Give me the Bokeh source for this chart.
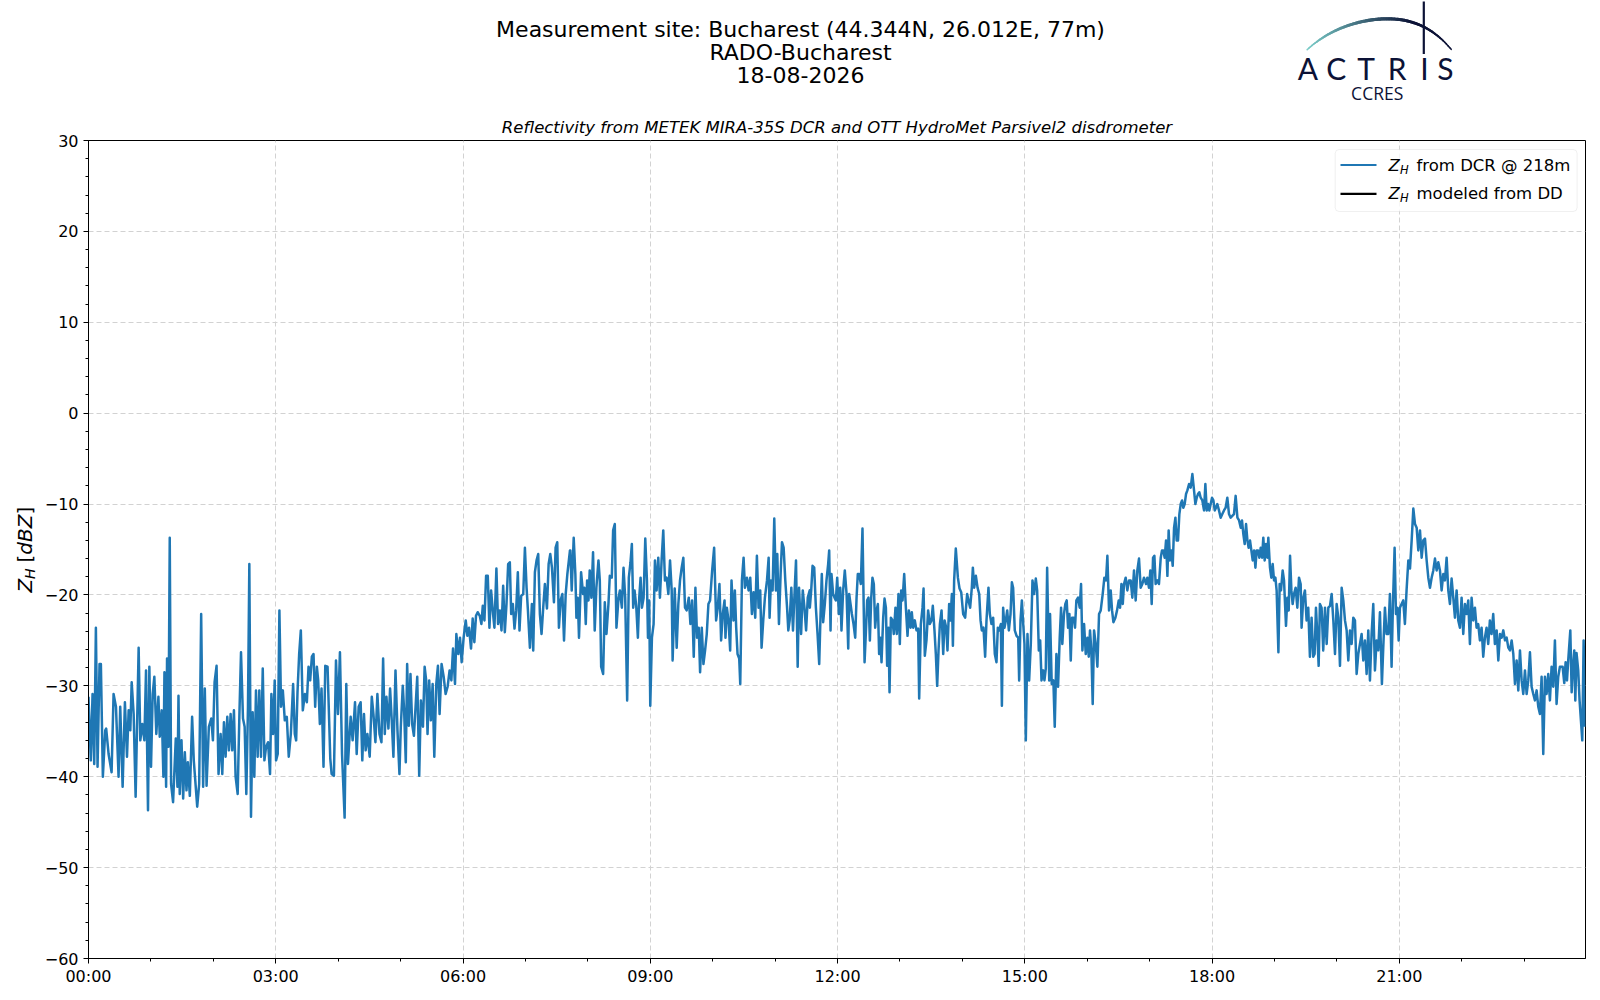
import numpy as np
import pandas as pd
from bokeh.plotting import figure
from bokeh.models import (Range1d, FixedTicker, DatetimeTickFormatter, Label,
                          BoxAnnotation, ColumnDataSource)
from bokeh.layouts import column, row
from bokeh.embed import file_html
from bokeh.resources import INLINE
from bokeh.core.properties import value

# ---------------------------------------------------------------- texts
DAY = "2026-08-18"
title_lines = ["Measurement site: Bucharest (44.344N, 26.012E, 77m)",
               "RADO-Bucharest", "18-08-2026"]
subtitle = "Reflectivity from METEK MIRA-35S DCR and OTT HydroMet Parsivel2 disdrometer"
legend_texts = ["from DCR @ 218m", "modeled from DD"]
legend_colors = ["#1f77b4", "#000000"]
x_tick_hours = [0, 3, 6, 9, 12, 15, 18, 21]
y_ticks = [-60, -50, -40, -30, -20, -10, 0, 10, 20, 30]
y_tick_labels = ["\u221260", "\u221250", "\u221240", "\u221230", "\u221220",
                 "\u221210", "0", "10", "20", "30"]

# ---------------------------------------------------------------- data (minutes after midnight, dBZ)
t_00_04 = [0, 2.2, 3.9, 5.5, 7.1, 8.7, 10.6, 11.9, 13.8, 16.1,
           17.0, 19.3, 22.2, 24.1, 26.4, 28.9, 30.5, 32.8, 35.0, 37.0,
           38.6, 40.2, 41.5, 43.4, 45.3, 48.2, 49.8, 51.7, 53.7, 55.3,
           57.2, 58.5, 60.1, 61.7, 63.3, 65.2, 67.2, 68.5, 70.4, 72.0,
           73.0, 74.6, 75.5, 76.8, 78.1, 79.4, 81.3, 83.9, 85.5, 86.5,
           87.7, 89.4, 91.0, 92.6, 94.2, 95.5, 97.4, 99.6, 101.2, 104.5,
           106.4, 108.3, 110.2, 111.8, 113.5, 115.7, 118.0, 119.6, 121.2, 123.1,
           125.0, 127.0, 128.6, 130.2, 131.8, 133.4, 135.0, 136.6, 138.2, 139.8,
           141.4, 143.4, 145.0, 146.6, 148.5, 150.1, 151.7, 153.3, 154.6, 156.2,
           157.8, 159.4, 161.0, 162.6, 164.2, 165.8, 167.5, 169.1, 170.7, 172.6,
           174.5, 175.8, 177.4, 179.0, 180.3, 181.9, 183.5, 185.1, 186.8, 188.7,
           190.6, 192.5, 194.5, 196.7, 198.3, 199.6, 200.9, 202.5, 204.1, 206.0,
           208.0, 209.9, 211.5, 213.1, 214.7, 216.3, 217.9, 219.5, 220.8, 222.4,
           224.0, 225.9, 227.6, 229.8, 232.4]
z_00_04 = [-31.2, -38.2, -30.9, -38.6, -23.6, -38.9, -27.6, -27.6, -40.0, -34.9,
           -34.7, -37.5, -39.5, -30.9, -32.3, -40.0, -32.3, -41.1, -31.8, -37.8,
           -32.7, -34.9, -29.6, -33.1, -42.2, -25.8, -36.0, -34.2, -36.0, -28.3,
           -43.7, -27.9, -38.9, -30.9, -29.0, -35.3, -31.2, -35.6, -32.7, -40.0,
           -28.5, -41.1, -27.0, -36.7, -13.7, -40.8, -42.8, -35.8, -41.1, -31.1,
           -41.9, -36.0, -42.4, -37.3, -41.5, -38.4, -42.1, -33.4, -38.2, -43.3,
           -40.8, -22.1, -41.1, -30.3, -41.0, -34.5, -33.6, -36.0, -29.6, -27.8,
           -39.7, -35.3, -39.7, -34.0, -37.8, -33.4, -37.1, -33.1, -37.1, -32.7,
           -40.0, -41.9, -33.4, -26.3, -33.6, -34.5, -41.9, -32.3, -16.6, -44.4,
           -32.9, -40.0, -30.5, -37.8, -30.5, -37.8, -28.1, -38.2, -36.7, -36.2,
           -39.7, -30.9, -35.3, -29.4, -38.2, -37.5, -21.7, -32.3, -30.5, -33.8,
           -33.4, -37.8, -35.3, -29.8, -35.3, -36.0, -30.7, -26.5, -23.9, -32.7,
           -30.9, -31.8, -27.9, -29.4, -26.8, -26.5, -32.3, -27.9, -29.4, -34.2,
           -30.3, -38.9, -27.8, -27.9, -38.0]

t_04_08 = [233.7, 235.9, 237.9, 239.8, 241.7, 243.7, 246.2, 247.8, 249.4, 252.0,
           253.9, 256.2, 257.8, 259.7, 261.6, 263.2, 264.8, 266.4, 268.1, 270.3,
           272.3, 273.9, 275.8, 277.7, 279.7, 281.6, 283.2, 284.8, 286.4, 288.3,
           289.9, 291.5, 293.1, 295.1, 297.0, 298.9, 300.2, 302.1, 303.4, 305.0,
           306.3, 307.9, 309.5, 311.1, 312.8, 314.4, 316.0, 317.9, 319.5, 321.5,
           323.1, 324.6, 325.9, 327.5, 329.1, 330.8, 332.4, 334.3, 335.9, 337.5,
           339.4, 341.4, 343.3, 345.2, 347.1, 348.8, 350.4, 352.3, 353.6, 355.5,
           357.1, 358.7, 360.6, 362.6, 364.2, 365.8, 367.7, 369.3, 370.9, 372.5,
           374.1, 376.1, 377.7, 379.0, 380.6, 382.2, 383.8, 385.4, 387.0, 388.9,
           390.2, 392.1, 393.7, 395.4, 397.0, 398.6, 400.2, 401.8, 403.4, 405.0,
           406.3, 407.9, 409.5, 411.1, 412.7, 414.3, 415.9, 417.9, 419.5, 421.1,
           422.4, 424.3, 426.2, 427.5, 429.1, 430.7, 432.3, 433.9, 435.5, 437.1,
           438.7, 440.7, 442.3, 443.9, 445.5, 447.4, 449.0, 450.6, 452.2, 453.8,
           455.5, 457.1, 458.7, 460.3, 462.8]
z_04_08 = [-39.7, -39.9, -27.2, -33.1, -26.3, -37.5, -44.5, -29.8, -38.6, -33.4,
           -36.0, -31.8, -37.5, -32.3, -31.8, -38.2, -33.1, -37.1, -35.3, -37.8,
           -31.2, -33.1, -36.2, -30.9, -35.3, -36.2, -27.0, -35.3, -31.2, -34.7,
           -30.3, -33.8, -37.8, -28.3, -34.9, -39.7, -34.5, -30.0, -32.7, -38.4,
           -27.6, -34.4, -28.7, -34.2, -35.5, -32.3, -29.0, -39.9, -31.6, -34.5,
           -27.9, -29.4, -35.3, -29.4, -33.8, -29.8, -37.8, -29.8, -27.8, -33.1,
           -27.6, -29.0, -30.9, -30.1, -28.3, -29.4, -25.9, -29.8, -24.3, -26.5,
           -24.7, -27.4, -24.7, -22.8, -24.5, -23.6, -25.9, -22.6, -25.2, -22.3,
           -21.9, -22.3, -23.2, -21.2, -22.8, -17.9, -17.9, -23.6, -19.5, -22.1,
           -23.6, -17.1, -23.2, -21.7, -23.9, -19.0, -24.1, -21.0, -16.6, -16.4,
           -22.1, -21.0, -23.7, -21.7, -17.5, -23.9, -20.1, -19.9, -14.8, -19.2,
           -21.7, -25.8, -21.0, -26.1, -17.5, -16.2, -15.5, -22.1, -24.3, -21.4,
           -18.8, -21.5, -16.6, -15.5, -17.0, -20.8, -14.8, -14.2, -23.6, -20.6,
           -19.9, -25.0, -19.9, -17.7, -15.1]

t_08_12 = [463.2, 464.5, 466.4, 468.0, 469.0, 470.3, 471.5, 473.5, 475.4, 476.7,
           478.0, 479.3, 480.6, 481.8, 483.4, 485.0, 486.6, 488.2, 490.2, 491.5,
           492.8, 494.7, 496.3, 497.9, 499.8, 501.1, 503.0, 504.3, 505.9, 507.5,
           509.5, 510.8, 512.7, 514.3, 515.9, 517.8, 519.4, 521.0, 522.3, 523.6,
           524.9, 526.5, 528.1, 529.4, 530.7, 532.0, 533.6, 535.2, 536.8, 537.8,
           539.0, 540.0, 541.6, 543.2, 544.5, 546.1, 547.7, 549.3, 550.9, 552.5,
           554.1, 555.7, 557.4, 559.0, 560.6, 561.5, 563.5, 565.4, 567.0, 568.6,
           570.2, 571.8, 573.4, 575.0, 577.0, 578.6, 580.2, 581.8, 583.4, 585.0,
           586.6, 587.9, 589.5, 591.1, 592.7, 594.3, 595.9, 597.5, 599.5, 601.4,
           603.3, 604.9, 606.5, 608.1, 609.7, 611.4, 612.3, 613.6, 615.2, 616.8,
           618.1, 620.0, 621.3, 622.6, 623.9, 625.5, 626.5, 628.1, 629.7, 631.0,
           632.9, 634.5, 636.1, 637.7, 639.3, 640.9, 642.5, 644.1, 645.7, 647.0,
           648.6, 650.2, 652.2, 653.8, 654.7, 656.0, 657.6, 659.2, 660.8, 662.1,
           663.7, 665.3, 666.6, 668.2, 669.8, 671.5, 672.7, 674.0, 675.6, 677.2,
           678.8, 680.1, 681.7, 683.0, 685.0, 686.6, 688.2, 689.8, 691.4, 693.3]
z_08_12 = [-15.1, -19.5, -13.7, -17.7, -22.5, -20.3, -24.7, -17.5, -19.9, -19.2,
           -23.2, -18.4, -20.6, -17.3, -20.3, -15.3, -23.9, -19.2, -16.2, -18.4,
           -27.9, -28.7, -20.8, -24.3, -21.0, -17.9, -18.1, -12.9, -12.2, -23.6,
           -20.3, -19.5, -21.4, -17.0, -20.3, -31.6, -18.1, -16.4, -14.4, -21.4,
           -19.5, -21.2, -24.7, -20.3, -18.1, -21.4, -20.3, -13.8, -18.4, -24.7,
           -20.6, -32.2, -24.7, -23.2, -16.2, -19.5, -15.9, -20.3, -16.2, -12.9,
           -18.4, -18.1, -19.9, -16.2, -19.5, -27.2, -19.3, -25.8, -21.0, -18.4,
           -17.0, -15.9, -21.4, -21.7, -20.3, -23.2, -20.6, -26.8, -19.2, -24.7,
           -23.6, -28.5, -23.6, -27.6, -26.1, -24.3, -21.0, -20.6, -17.3, -14.8,
           -22.8, -21.4, -18.8, -25.0, -22.1, -20.6, -24.7, -21.4, -22.8, -26.1,
           -18.4, -22.8, -19.5, -23.6, -26.5, -27.0, -29.8, -18.4, -15.9, -19.2,
           -18.1, -19.5, -18.1, -22.1, -19.7, -22.5, -15.7, -21.4, -19.5, -25.8,
           -22.8, -20.3, -18.4, -15.9, -22.5, -18.4, -19.5, -11.6, -19.5, -15.5,
           -23.2, -17.7, -14.2, -14.8, -18.4, -21.4, -23.9, -22.8, -19.2, -23.9,
           -19.5, -16.2, -27.9, -19.2, -24.3, -19.5, -21.4, -23.9, -20.3, -19.5]

t_12_15 = [693.4, 694.7, 696.0, 697.6, 699.2, 700.8, 702.4, 703.7, 704.9, 706.2,
           707.8, 709.4, 711.0, 712.0, 713.3, 714.2, 715.8, 717.1, 718.4, 719.7,
           721.3, 722.6, 723.8, 725.4, 727.0, 728.7, 730.3, 731.2, 732.5, 733.8,
           735.4, 737.0, 738.3, 739.5, 740.8, 742.4, 744.0, 746.0, 747.2, 748.5,
           749.8, 751.1, 752.4, 753.6, 754.9, 756.2, 757.5, 758.8, 760.0, 761.3,
           762.3, 763.9, 765.2, 766.5, 767.7, 769.0, 770.0, 771.3, 772.9, 774.1,
           775.7, 777.0, 778.6, 779.9, 781.2, 782.5, 784.1, 785.7, 787.3, 788.6,
           790.2, 791.4, 792.7, 794.3, 795.9, 797.5, 798.5, 800.1, 801.7, 802.7,
           803.9, 805.5, 807.1, 808.7, 810.3, 811.6, 813.2, 814.5, 815.8, 817.1,
           818.4, 820.0, 821.6, 822.9, 824.5, 825.7, 827.3, 828.6, 829.9, 830.9,
           832.1, 833.7, 835.7, 837.3, 838.9, 840.8, 842.7, 844.6, 845.9, 847.5,
           849.1, 850.1, 851.4, 853.0, 854.6, 856.2, 857.5, 858.7, 860.3, 861.9,
           863.2, 865.1, 866.4, 868.0, 869.6, 871.2, 872.8, 874.1, 875.4, 877.0,
           878.0, 879.2, 880.5, 881.8, 883.1, 884.7, 886.3, 887.6, 888.8, 890.4,
           892.1, 893.7, 894.6, 895.9, 897.2, 898.5, 899.7, 901.0, 902.6, 904.2,
           905.8, 907.4, 909.0, 910.6, 911.9, 913.5, 914.8, 916.1, 917.7, 918.9,
           920.2, 921.5, 923.5]
z_12_15 = [-21.4, -19.5, -16.8, -17.0, -21.4, -24.3, -27.6, -22.1, -17.7, -23.0,
           -21.0, -18.4, -16.6, -15.1, -23.9, -17.7, -19.9, -20.3, -20.6, -18.1,
           -22.1, -19.2, -23.9, -19.5, -17.3, -19.9, -25.9, -19.9, -21.0, -22.1,
           -23.2, -24.7, -20.3, -17.7, -17.7, -18.8, -12.7, -27.4, -24.3, -20.6,
           -20.3, -25.0, -20.3, -18.1, -18.8, -23.6, -21.7, -21.0, -26.5, -24.7,
           -27.4, -22.5, -20.4, -21.4, -27.8, -23.6, -30.7, -22.5, -22.8, -24.3,
           -21.4, -24.3, -19.9, -25.4, -19.5, -20.6, -17.7, -21.4, -24.5, -21.7,
           -23.6, -21.9, -23.6, -22.8, -23.9, -23.7, -31.4, -23.2, -21.4, -19.3,
           -26.7, -25.0, -21.7, -23.2, -22.8, -21.2, -23.9, -26.5, -30.0, -26.1,
           -23.2, -21.7, -26.5, -22.8, -23.6, -26.1, -21.0, -22.8, -19.9, -25.6,
           -18.4, -14.9, -18.1, -19.3, -19.7, -22.1, -22.5, -19.9, -20.6, -21.4,
           -19.2, -17.0, -19.2, -17.9, -19.2, -19.9, -22.8, -23.9, -23.6, -26.8,
           -22.8, -19.2, -22.1, -23.2, -22.5, -26.5, -27.4, -23.6, -23.9, -23.2,
           -32.2, -21.4, -23.6, -22.8, -21.7, -23.9, -22.1, -18.6, -19.2, -23.9,
           -24.5, -24.7, -29.4, -22.8, -20.6, -23.2, -25.4, -36.0, -24.3, -29.4,
           -25.4, -18.4, -19.9, -18.2, -19.5, -26.1, -25.0, -29.4, -28.3, -29.4,
           -28.1, -17.0, -29.4]

t_15_19 = [924.3, 925.9, 927.5, 928.8, 930.4, 932.0, 933.6, 934.9, 936.1, 937.7,
           939.0, 940.3, 941.6, 942.9, 944.2, 945.4, 947.0, 948.3, 949.6, 951.2,
           952.8, 954.1, 955.4, 957.0, 958.6, 960.2, 961.5, 962.7, 964.0, 965.3,
           966.6, 968.2, 969.8, 971.4, 973.0, 974.9, 976.5, 978.1, 979.4, 981.0,
           982.6, 983.9, 985.2, 987.1, 988.7, 990.3, 991.6, 992.9, 994.2, 995.4,
           997.0, 998.6, 1000.2, 1001.8, 1003.4, 1005.0, 1006.6, 1008.2, 1009.8, 1011.4,
           1013.0, 1014.6, 1016.6, 1017.8, 1019.4, 1020.7, 1022.0, 1023.3, 1024.6, 1025.8,
           1027.4, 1029.0, 1030.7, 1031.9, 1033.2, 1034.5, 1035.8, 1037.1, 1038.3, 1039.6,
           1040.9, 1042.2, 1043.5, 1044.8, 1046.0, 1047.3, 1048.6, 1049.9, 1051.2, 1052.4,
           1053.7, 1055.0, 1056.3, 1057.9, 1059.5, 1061.1, 1062.7, 1064.0, 1065.3, 1066.5,
           1067.8, 1069.1, 1070.7, 1072.3, 1073.6, 1074.9, 1076.2, 1077.4, 1078.7, 1080.0,
           1081.3, 1082.6, 1083.8, 1085.1, 1086.7, 1088.3, 1089.9, 1091.5, 1093.1, 1094.7,
           1096.3, 1097.9, 1099.5, 1101.1, 1102.7, 1104.4, 1106.0, 1107.6, 1108.8, 1110.1,
           1111.4, 1112.7, 1114.0, 1115.2, 1116.5, 1117.8, 1119.1, 1120.4, 1121.7, 1122.9,
           1124.2, 1125.5, 1126.8, 1128.1, 1129.3, 1130.6, 1131.9, 1133.2, 1134.1, 1135.7,
           1137.0, 1138.3, 1139.6, 1140.9, 1142.1, 1143.8, 1145.0, 1146.3, 1147.9, 1149.2,
           1151.1, 1152.4, 1153.7, 1155.0, 1156.3, 1157.5, 1158.8, 1160.4, 1162.0, 1163.6,
           1165.2]
z_15_19 = [-22.1, -29.8, -29.4, -34.5, -26.5, -30.1, -24.7, -21.4, -25.4, -22.1,
           -21.0, -20.6, -23.6, -22.1, -27.2, -22.5, -22.5, -23.6, -20.6, -20.3,
           -21.4, -18.8, -26.1, -23.2, -26.5, -24.7, -26.8, -23.9, -26.1, -32.0,
           -23.9, -25.4, -27.9, -22.1, -21.7, -19.9, -18.1, -18.4, -15.7, -21.7,
           -19.5, -21.7, -23.0, -22.5, -21.7, -20.6, -21.4, -18.8, -21.0, -18.8,
           -18.1, -19.5, -18.4, -18.4, -20.3, -17.3, -20.6, -17.3, -16.0, -19.2,
           -18.8, -18.1, -18.8, -18.1, -19.2, -17.3, -21.0, -15.9, -15.7, -18.8,
           -18.4, -18.8, -15.9, -15.1, -15.1, -15.9, -14.0, -17.9, -12.9, -16.2,
           -15.1, -16.8, -12.6, -11.5, -14.0, -14.0, -11.1, -10.0, -9.6, -10.4,
           -10.0, -8.9, -8.5, -7.8, -8.2, -6.7, -8.5, -10.0, -9.3, -8.9,
           -8.7, -9.3, -9.6, -10.7, -7.8, -10.7, -10.0, -10.7, -10.0, -9.3,
           -9.6, -10.7, -10.4, -10.0, -10.7, -11.5, -11.1, -10.7, -10.4, -9.3,
           -11.1, -11.5, -11.3, -11.1, -9.1, -11.5, -11.8, -12.6, -11.8, -13.3,
           -14.4, -12.2, -14.0, -14.8, -14.0, -15.1, -16.2, -15.1, -17.0, -15.1,
           -15.1, -15.9, -14.8, -15.9, -13.7, -16.2, -14.4, -15.9, -13.7, -17.0,
           -18.1, -16.6, -18.4, -18.1, -19.5, -26.3, -18.8, -19.5, -17.3, -18.4,
           -23.4, -20.3, -21.7, -15.7, -19.5, -21.0, -19.9, -19.2, -21.4, -18.1,
           -18.8]

t_19_24 = [1166.1, 1167.7, 1169.3, 1170.9, 1172.5, 1174.1, 1175.7, 1177.3, 1178.6, 1179.9,
           1181.2, 1182.5, 1183.7, 1185.3, 1186.9, 1188.6, 1190.2, 1191.8, 1193.4, 1195.0,
           1196.6, 1198.2, 1199.8, 1201.4, 1203.0, 1204.6, 1206.2, 1207.8, 1209.4, 1211.0,
           1212.6, 1214.2, 1215.8, 1217.4, 1219.0, 1220.6, 1222.2, 1223.8, 1225.4, 1227.0,
           1228.6, 1230.2, 1231.8, 1233.4, 1235.0, 1236.6, 1238.2, 1239.8, 1241.4, 1243.3,
           1244.6, 1246.2, 1247.8, 1249.4, 1251.0, 1252.6, 1253.9, 1255.5, 1256.8, 1258.1,
           1259.4, 1260.6, 1262.2, 1263.8, 1265.4, 1267.0, 1268.7, 1270.3, 1271.9, 1273.5,
           1275.1, 1276.7, 1278.3, 1279.9, 1281.5, 1283.1, 1284.7, 1286.3, 1287.9, 1289.5,
           1291.1, 1292.7, 1294.3, 1295.9, 1297.5, 1299.1, 1300.7, 1302.3, 1303.9, 1305.5,
           1307.1, 1308.7, 1310.3, 1311.9, 1313.5, 1315.1, 1316.7, 1318.3, 1319.9, 1321.5,
           1323.1, 1324.7, 1326.3, 1327.9, 1329.5, 1331.1, 1332.7, 1334.3, 1335.9, 1337.5,
           1339.1, 1340.7, 1342.3, 1343.9, 1345.5, 1347.1, 1348.7, 1350.3, 1351.9, 1353.6,
           1355.2, 1356.8, 1358.4, 1360.0, 1361.6, 1363.2, 1364.8, 1366.4, 1368.0, 1369.6,
           1371.2, 1372.8, 1374.4, 1376.0, 1377.6, 1379.2, 1380.8, 1382.4, 1384.0, 1385.6,
           1387.2, 1388.8, 1390.4, 1392.0, 1393.6, 1395.2, 1396.8, 1398.4, 1400.0, 1401.6,
           1403.2, 1404.8, 1406.4, 1408.0, 1409.6, 1411.2, 1412.8, 1414.4,
           1417.0, 1418.6, 1419.9, 1421.2, 1422.4, 1424.4, 1425.7, 1426.9, 1428.2, 1429.2,
           1430.4, 1432.0, 1433.3, 1434.6, 1435.9, 1437.2, 1438.5]
z_19_24 = [-23.6, -20.3, -19.5, -22.8, -21.4, -26.8, -22.5, -26.8, -26.5, -21.4,
           -24.3, -27.8, -21.0, -21.4, -26.1, -21.4, -25.4, -21.4, -21.2, -19.9,
           -22.8, -26.5, -21.0, -22.5, -27.8, -19.2, -20.6, -22.8, -23.9, -27.2,
           -23.9, -25.4, -22.5, -22.8, -28.7, -26.5, -25.4, -24.3, -27.2, -25.0,
           -28.7, -23.9, -29.4, -24.3, -21.0, -28.3, -25.0, -26.1, -21.9, -29.8,
           -25.8, -21.4, -24.3, -24.3, -19.9, -27.9, -21.0, -14.8, -22.1, -21.4,
           -25.0, -21.4, -21.0, -20.6, -23.2, -19.5, -16.2, -17.1, -14.0, -10.5,
           -12.2, -12.6, -15.1, -12.9, -15.9, -14.0, -13.8, -16.2, -18.1, -19.2,
           -18.1, -17.3, -16.0, -17.3, -16.4, -17.3, -19.5, -17.7, -18.4, -15.9,
           -19.5, -21.0, -18.2, -20.3, -22.5, -19.5, -22.8, -23.6, -20.3, -24.3,
           -21.0, -22.1, -20.6, -25.4, -20.3, -22.8, -21.4, -23.6, -23.2, -25.0,
           -23.6, -26.8, -24.7, -23.6, -25.4, -22.8, -24.3, -22.1, -25.4, -23.9,
           -27.2, -24.3, -24.7, -23.9, -25.0, -24.7, -25.8, -26.1, -25.0, -26.5,
           -29.8, -27.2, -30.5, -26.1, -29.4, -30.9, -28.3, -30.9, -29.4, -26.3,
           -30.1, -30.9, -31.6, -30.5, -32.3, -33.1, -29.0, -37.5, -29.0, -30.9,
           -28.7, -31.6, -27.9, -30.1, -25.0, -32.0, -29.0, -27.9,
           -27.9, -29.7, -27.4, -29.4, -27.2, -23.9, -30.7, -27.9, -26.1, -31.6,
           -26.4, -28.3, -31.6, -33.8, -36.0, -25.0, -34.5]

# ---------------------------------------------------------------- build series
minutes = t_00_04 + t_04_08 + t_08_12 + t_12_15 + t_15_19 + t_19_24
zh_dcr = z_00_04 + z_04_08 + z_08_12 + z_12_15 + z_15_19 + z_19_24
n = min(len(minutes), len(zh_dcr))
base = pd.Timestamp(DAY)
times = (base + pd.to_timedelta(np.array(minutes[:n]), unit="m")).values
src = ColumnDataSource(dict(t=times, z=np.array(zh_dcr[:n])))

FONT = "DejaVu Sans"
NAVY = "#0c1236"

# page geometry (pixels)
W = 1592
LEFT, RIGHT = 88, 1585          # plot frame x extent
HEAD_H = 112                    # header height (titles, logo)
YLAB_W = 40                     # strip for the y-axis label
MAIN_H = 880
TOP_B, BOT_B = 28, 34           # main figure borders (top border holds the axes title)


def bare(width, height, xr, yr, **kw):
    f = figure(width=width, height=height, x_range=xr, y_range=yr,
               output_backend="svg", toolbar_location=None, title=None,
               x_axis_location=None, y_axis_location=None, **kw)
    f.xgrid.visible = False
    f.ygrid.visible = False
    f.outline_line_color = None
    f.background_fill_color = "white"
    f.border_fill_color = "white"
    return f


# ---------------------------------------------------------------- header
h = bare(W, HEAD_H, Range1d(LEFT, RIGHT), Range1d(HEAD_H, 0),
         min_border_left=LEFT, min_border_right=W - RIGHT,
         min_border_top=0, min_border_bottom=0)
h.text(x=[800, 800, 800], y=[28.6, 52.0, 74.6], text=title_lines,
       text_font=value(FONT), text_font_size="22px", text_color="black",
       text_align="center", text_baseline="middle")

# logo arc (gradient)
arc_px = np.array([1306.7, 1316.7, 1326.7, 1340, 1353.3, 1366.7, 1380, 1393.3,
                   1406.7, 1420, 1433.3, 1443.3, 1450.7])
arc_py = np.array([49.3, 40.7, 34.3, 28.3, 23.3, 20.0, 18.3, 18.3,
                   20.7, 25.0, 32.7, 40.0, 49.3])
u = (arc_px - arc_px.mean()) / 72.0
coef = np.polyfit(u, arc_py, 4)
ud = np.linspace(u[0], u[-1], 90)
xd = ud * 72.0 + arc_px.mean()
yd = np.polyval(coef, ud)
c0 = np.array([0x7a, 0xcc, 0xc8])
c1 = np.array([0x0c, 0x12, 0x36])
seg_xs, seg_ys, seg_c, seg_w = [], [], [], []
for i in range(len(xd) - 1):
    f = i / (len(xd) - 2)
    g = min(1.0, f * 1.35)
    col = (c0 + (c1 - c0) * g).astype(int)
    seg_xs.append([xd[i], xd[i + 1]])
    seg_ys.append([yd[i], yd[i + 1]])
    seg_c.append("#%02x%02x%02x" % tuple(col))
    seg_w.append(1.0 + 2.2 * np.sin(np.pi * min(0.97, max(0.03, f))) ** 0.6)
h.multi_line(xs="xs", ys="ys", line_color="c", line_width="w", line_cap="round",
             source=ColumnDataSource(dict(xs=seg_xs, ys=seg_ys, c=seg_c, w=seg_w)))
h.segment(x0=[1423.3], y0=[1.0], x1=[1423.3], y1=[53.5], line_color=NAVY, line_width=2.2)

logo_letters = ["A", "C", "T", "R", "I", "S"]
logo_x = [1307.5, 1335.7, 1365.7, 1396.7, 1424.0, 1445.0]
h.text(x=logo_x, y=[67.8] * 6, text=logo_letters, text_font=value("Lato"),
       text_font_size="30px", text_color=NAVY, text_align="center", text_baseline="middle")
h.text(x=[1376.7], y=[92.7], text=["CCRES"], text_font=value("Open Sans"),
       text_font_size="17.5px", text_color=NAVY, text_align="center", text_baseline="middle")

# ---------------------------------------------------------------- y-axis label strip
frame_top = HEAD_H + TOP_B
frame_bot = HEAD_H + MAIN_H - BOT_B
yl = bare(YLAB_W, MAIN_H, Range1d(0, YLAB_W), Range1d(frame_bot, frame_top),
          min_border_left=0, min_border_right=0,
          min_border_top=TOP_B, min_border_bottom=BOT_B)
ylab_parts = [("Z", 24.5, 592.0, "20px", "italic"),
              ("H", 29.5, 578.6, "14px", "italic"),
              ("[", 24.5, 562.0, "20px", "normal"),
              ("dBZ", 24.5, 554.2, "20px", "italic"),
              ("]", 24.5, 514.0, "20px", "normal")]
for txt, xx, yy, fs, st in ylab_parts:
    yl.text(x=[xx], y=[yy], text=[txt], angle=np.pi / 2, text_font=value(FONT),
            text_font_size=fs, text_font_style=st, text_color="black",
            text_align="left", text_baseline="middle")

# ---------------------------------------------------------------- main chart
p = figure(width=W - YLAB_W, height=MAIN_H, x_axis_type="datetime",
           x_range=Range1d(base, base + pd.Timedelta(minutes=1439)),
           y_range=Range1d(-60, 30), output_backend="svg", toolbar_location=None,
           title=subtitle, min_border_left=LEFT - YLAB_W, min_border_right=W - RIGHT,
           min_border_top=TOP_B, min_border_bottom=BOT_B)
p.title.align = "center"
p.title.text_font = FONT
p.title.text_font_size = "16.5px"
p.title.text_font_style = "italic"
p.title.text_color = "black"
p.title.standoff = 7
p.title.offset = 0
p.background_fill_color = "white"
p.border_fill_color = "white"
p.outline_line_color = "black"
p.outline_line_width = 1

p.line(x="t", y="z", source=src, line_color="#1f77b4", line_width=2.5, line_join="round")

xt = FixedTicker(ticks=[(base + pd.Timedelta(hours=hh)).value / 1e6 for hh in x_tick_hours],
                 minor_ticks=[(base + pd.Timedelta(hours=hh)).value / 1e6 for hh in range(24)])
p.xaxis.ticker = xt
p.xgrid.ticker = xt
p.xaxis.formatter = DatetimeTickFormatter(hours="%H:%M", hourmin="%H:%M", days="%H:%M",
                                          minutes="%H:%M", minsec="%H:%M")
yt = FixedTicker(ticks=y_ticks, minor_ticks=list(range(-60, 31, 2)))
p.yaxis.ticker = yt
p.ygrid.ticker = yt
p.yaxis.major_label_overrides = {t: s for t, s in zip(y_ticks, y_tick_labels)}

for ax in (p.xaxis, p.yaxis):
    ax.axis_line_color = "black"
    ax.axis_line_width = 1
    ax.major_tick_line_color = "black"
    ax.minor_tick_line_color = "black"
    ax.major_tick_in = 0
    ax.major_tick_out = 5
    ax.minor_tick_in = 0
    ax.minor_tick_out = 3
    ax.major_label_text_font = FONT
    ax.major_label_text_font_size = "16px"
    ax.major_label_text_color = "black"
p.xaxis.major_label_standoff = 3
p.yaxis.major_label_standoff = 5

for g in (p.xgrid, p.ygrid):
    g.grid_line_color = "#d2d2d2"
    g.grid_line_width = 1
    g.grid_line_dash = "5 3"

# legend (frame-relative screen units)
p.add_layout(BoxAnnotation(left=1246.7, right=1488.6, top=809, bottom=747,
                           left_units="screen", right_units="screen",
                           top_units="screen", bottom_units="screen",
                           fill_color="white", fill_alpha=0.8, line_color="#cccccc",
                           line_width=1, border_radius=4))
for i, (txt, col) in enumerate(zip(legend_texts, legend_colors)):
    sy = 793.5 - 28.8 * i
    p.add_layout(BoxAnnotation(left=1252, right=1288, top=sy + 1.1, bottom=sy - 1.1,
                               left_units="screen", right_units="screen",
                               top_units="screen", bottom_units="screen",
                               fill_color=col, fill_alpha=1.0, line_color=None))
    p.add_layout(Label(x=1300, y=sy, x_units="screen", y_units="screen", text="Z",
                       text_font=FONT, text_font_size="16.5px", text_font_style="italic",
                       text_color="black", text_align="left", text_baseline="middle"))
    p.add_layout(Label(x=1311.5, y=sy - 4.5, x_units="screen", y_units="screen", text="H",
                       text_font=FONT, text_font_size="11.5px", text_font_style="italic",
                       text_color="black", text_align="left", text_baseline="middle"))
    p.add_layout(Label(x=1328, y=sy, x_units="screen", y_units="screen", text=txt,
                       text_font=FONT, text_font_size="16.5px", text_color="black",
                       text_align="left", text_baseline="middle"))

layout = column(h, row(yl, p))
open("out.html", "w").write(file_html(layout, INLINE))
